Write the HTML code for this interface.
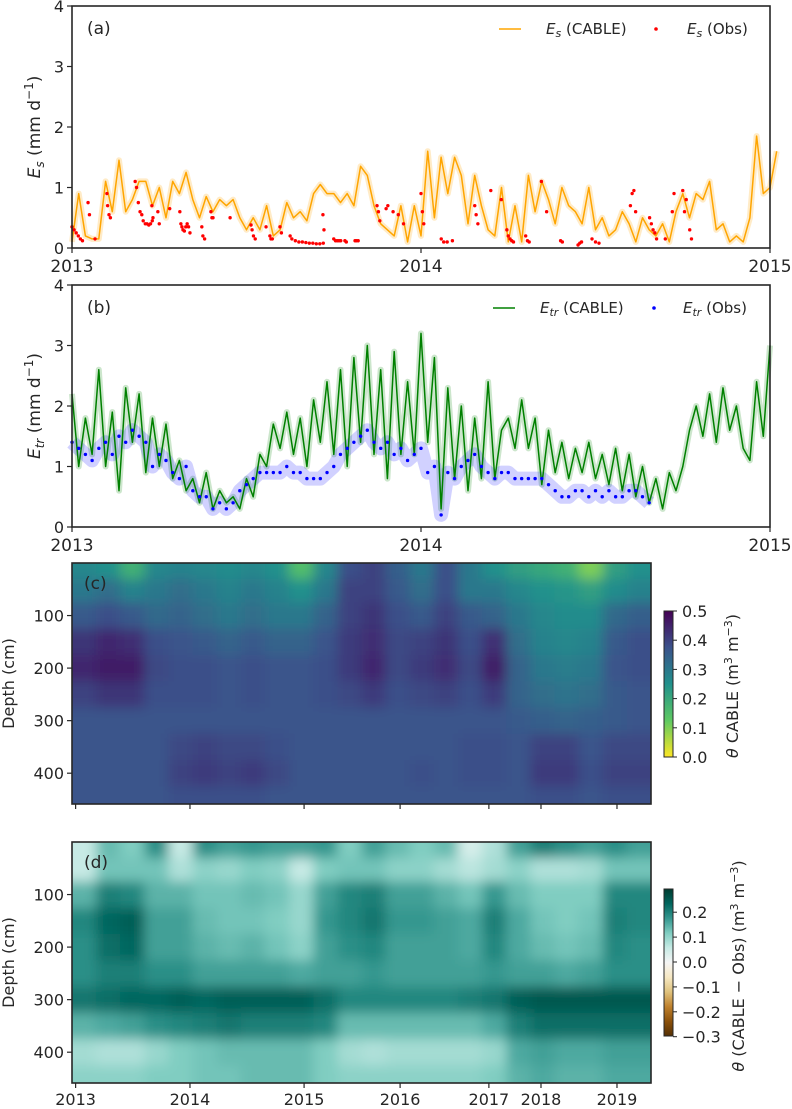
<!DOCTYPE html>
<html><head><meta charset="utf-8"><style>
html,body{margin:0;padding:0;background:#fff;}
svg{display:block;font-family:"DejaVu Sans","Liberation Sans",sans-serif;}
</style></head><body>
<svg id="fig" width="792" height="1109" viewBox="0 0 792 1109" xmlns="http://www.w3.org/2000/svg">
<defs>
<filter id="blur" x="-5%" y="-5%" width="110%" height="110%"><feGaussianBlur stdDeviation="6" edgeMode="duplicate"/></filter>
<clipPath id="clipC"><rect x="72" y="563" width="579" height="241"/></clipPath>
<clipPath id="clipD"><rect x="72" y="842" width="579" height="241"/></clipPath>
<linearGradient id="gradC" x1="0" y1="1" x2="0" y2="0">
<stop offset="0" stop-color="#fde725"/><stop offset="0.25" stop-color="#5ec962"/><stop offset="0.5" stop-color="#21918c"/><stop offset="0.75" stop-color="#3b528b"/><stop offset="1" stop-color="#440154"/>
</linearGradient>
<linearGradient id="gradD" x1="0" y1="1" x2="0" y2="0">
<stop offset="0" stop-color="#543005"/><stop offset="0.1" stop-color="#8c510a"/><stop offset="0.2" stop-color="#bf812d"/><stop offset="0.3" stop-color="#dfc27d"/><stop offset="0.4" stop-color="#f6e8c3"/><stop offset="0.5" stop-color="#f5f5f5"/><stop offset="0.6" stop-color="#c7eae5"/><stop offset="0.7" stop-color="#80cdc1"/><stop offset="0.8" stop-color="#35978f"/><stop offset="0.9" stop-color="#01665e"/><stop offset="1" stop-color="#003c30"/>
</linearGradient>
</defs>
</svg>
<script>
// ---------- DATA ----------
const esStart = 2013.0, esStep = 1/52;
const esCable = [0.1,0.9,0.2,0.15,0.15,1.1,0.6,1.45,0.6,0.8,1.1,1.1,0.7,1.0,0.5,1.1,0.9,1.25,0.8,0.5,0.85,0.6,0.8,0.7,0.8,0.5,0.3,0.5,0.3,0.7,0.2,0.3,0.75,0.5,0.6,0.45,0.9,1.05,0.9,0.9,0.75,0.9,0.7,1.35,1.2,0.7,0.4,0.3,0.2,0.7,0.1,0.7,0.2,
1.6,0.5,1.5,0.9,1.5,1.2,0.4,1.2,0.7,0.3,0.2,1.0,0.1,0.7,0.1,1.2,0.6,1.1,0.8,0.4,1.0,0.7,0.6,0.4,1.0,0.3,0.5,0.2,0.3,0.6,0.4,0.1,0.5,0.3,0.2,0.4,0.1,0.6,0.9,0.5,0.9,0.8,1.1,0.3,0.4,0.1,0.2,0.1,0.5,1.85,0.9,1.0,1.6];
const esObsT = [2013.0,2013.006,2013.012,2013.018,2013.024,2013.03,2013.046,2013.05,2013.066,2013.1,2013.102,2013.106,2013.11,2013.181,2013.185,2013.19,2013.195,2013.2,2013.204,2013.21,2013.215,2013.22,2013.225,2013.23,2013.229,2013.232,2013.246,2013.25,2013.28,2013.309,2013.312,2013.315,2013.318,2013.322,2013.326,2013.33,2013.334,2013.338,2013.372,2013.375,2013.38,2013.398,2013.401,2013.404,2013.453,2013.513,2013.516,2013.52,2013.525,2013.556,2013.567,2013.57,2013.574,2013.596,2013.6,2013.625,2013.63,2013.64,2013.65,2013.66,2013.67,2013.68,2013.69,2013.7,2013.71,2013.72,2013.719,2013.722,2013.75,2013.755,2013.76,2013.765,2013.77,2013.782,2013.786,2013.811,2013.815,2013.82,2013.874,2013.878,2013.882,2013.9,2013.905,
2013.92,2013.935,2013.95,2014.0,2014.004,2014.008,2014.058,2014.065,2014.075,2014.09,2014.154,2014.158,2014.163,2014.2,2014.23,2014.246,2014.25,2014.255,2014.26,2014.265,2014.3,2014.305,2014.31,2014.345,2014.36,2014.4,2014.405,2014.45,2014.455,2014.46,2014.49,2014.5,2014.51,2014.6,2014.605,2014.61,2014.615,2014.655,2014.66,2014.665,2014.67,2014.675,2014.7,2014.72,2014.725,2014.75,2014.755,2014.76,2014.77,2014.775];
const esObsV = [0.35,0.3,0.25,0.2,0.15,0.12,0.75,0.55,0.15,0.9,0.7,0.55,0.5,1.1,1.0,0.75,0.6,0.55,0.45,0.4,0.4,0.38,0.4,0.45,0.7,0.5,0.6,0.4,0.65,0.6,0.4,0.35,0.3,0.28,0.35,0.4,0.35,0.25,0.35,0.2,0.15,0.6,0.5,0.5,0.5,0.38,0.3,0.2,0.15,0.35,0.2,0.15,0.15,0.35,0.25,0.2,0.15,0.12,0.1,0.1,0.09,0.08,0.08,0.07,0.07,0.08,0.55,0.3,0.15,0.12,0.12,0.12,0.12,0.12,0.1,0.12,0.12,0.12,0.7,0.6,0.45,0.65,0.7,
0.6,0.55,0.4,0.9,0.6,0.4,0.15,0.1,0.1,0.12,0.7,0.55,0.4,0.95,0.8,0.3,0.2,0.15,0.12,0.1,0.2,0.12,0.1,1.1,0.6,0.12,0.1,0.05,0.08,0.1,0.15,0.1,0.08,0.7,0.9,0.95,0.6,0.5,0.4,0.3,0.25,0.15,0.15,0.6,0.9,0.95,0.6,0.8,0.3,0.15];
const etrStart = 2013.0, etrStep = 1/52;
const etrCable = [2.2,1.0,1.8,1.2,2.6,1.0,1.9,0.6,2.3,1.4,2.2,0.9,1.8,1.0,1.7,0.8,1.1,0.6,0.8,0.4,0.9,0.3,0.6,0.4,0.5,0.3,0.8,0.5,1.2,1.0,1.7,1.3,1.9,1.2,1.8,1.0,2.1,1.4,2.4,1.2,2.6,1.0,2.8,1.4,3.0,1.2,2.6,0.8,2.9,1.2,2.4,1.2,
3.2,1.4,2.8,0.3,2.3,0.8,2.0,0.6,1.8,0.8,2.4,0.8,1.6,1.8,1.3,2.1,1.3,1.8,0.7,1.6,0.9,1.4,0.8,1.3,0.9,1.4,0.8,1.2,0.7,1.3,0.6,1.2,0.5,1.0,0.4,0.8,0.3,0.9,0.6,1.0,1.6,2.0,1.5,2.2,1.4,2.3,1.6,2.0,1.3,1.1,2.4,1.5,3.0];
const etrObs = [1.4,1.3,1.2,1.1,1.3,1.4,1.2,1.5,1.4,1.6,1.5,1.4,1.0,1.2,1.1,0.9,0.8,1.0,0.6,0.5,0.5,0.3,0.4,0.3,0.4,0.6,0.7,0.8,0.9,0.9,0.9,0.9,1.0,0.9,0.9,0.8,0.8,0.8,0.9,1.0,1.2,1.3,1.4,1.5,1.6,1.4,1.3,1.4,1.2,1.3,1.1,1.2,
1.3,0.9,1.0,0.2,0.9,0.8,1.0,1.1,1.2,1.0,0.9,0.8,0.9,0.9,0.8,0.8,0.8,0.8,0.8,0.7,0.6,0.5,0.5,0.6,0.6,0.5,0.6,0.5,0.6,0.5,0.5,0.6,0.6,0.5,0.4];
const yearTicks = [2013,2014,2015];
const valTicks = [0,1,2,3,4];
const depths = [10,50,100,150,200,250,300,350,400,450];
const depthTicks = [100,200,300,400];
const heatYearLabels = [2013,2014,2015,2016,2017,2018,2019];
const heatYearIdx = [0.15,4.89,9.62,13.6,17.28,19.44,22.59];
const thetaCable = [
[.27,.25,.18,.27,.28,.27,.26,.27,.25,.15,.27,.38,.4,.35,.3,.38,.3,.25,.22,.2,.18,.1,.22,.25],
[.3,.32,.28,.3,.32,.3,.28,.3,.28,.25,.3,.4,.4,.36,.32,.38,.3,.3,.27,.25,.24,.22,.26,.28],
[.36,.38,.36,.33,.34,.32,.3,.32,.3,.3,.34,.4,.42,.38,.36,.4,.36,.34,.3,.27,.26,.26,.33,.35],
[.42,.44,.43,.38,.37,.36,.34,.36,.34,.34,.37,.41,.43,.39,.4,.42,.38,.43,.32,.28,.27,.28,.36,.38],
[.44,.46,.46,.39,.38,.38,.37,.38,.37,.37,.38,.41,.44,.39,.41,.43,.39,.46,.34,.3,.29,.3,.37,.38],
[.4,.42,.42,.38,.38,.38,.37,.38,.37,.37,.38,.39,.41,.38,.39,.4,.38,.41,.34,.32,.31,.32,.36,.37],
[.37,.37,.37,.37,.37,.37,.37,.37,.37,.37,.37,.37,.37,.37,.37,.37,.37,.37,.36,.35,.34,.35,.36,.37],
[.37,.37,.37,.37,.39,.4,.39,.39,.38,.37,.37,.37,.37,.37,.37,.37,.38,.38,.37,.4,.4,.37,.39,.39],
[.37,.37,.37,.37,.4,.41,.4,.41,.39,.37,.37,.37,.37,.37,.38,.37,.38,.38,.37,.41,.41,.38,.4,.4],
[.37,.37,.37,.37,.38,.38,.38,.38,.37,.37,.37,.37,.37,.37,.37,.37,.37,.37,.37,.38,.38,.37,.38,.38]];
const thetaDiff = [
[.06,.14,.12,.19,.06,.19,.17,.18,.17,.17,.18,.12,.17,.14,.12,.14,.04,.08,.17,.21,.19,.17,.19,.17],
[.06,.13,.13,.13,.08,.11,.1,.12,.11,.06,.12,.13,.13,.11,.11,.09,.07,.09,.11,.08,.08,.09,.13,.13],
[.15,.21,.2,.15,.15,.13,.13,.14,.13,.1,.17,.2,.21,.17,.17,.15,.13,.18,.14,.12,.12,.12,.2,.2],
[.2,.24,.25,.17,.17,.14,.13,.13,.12,.1,.18,.2,.22,.18,.18,.17,.16,.21,.16,.13,.12,.13,.21,.2],
[.19,.23,.24,.17,.17,.15,.14,.15,.13,.11,.17,.19,.2,.17,.17,.17,.16,.2,.16,.14,.13,.14,.2,.19],
[.19,.21,.21,.19,.19,.17,.17,.17,.17,.16,.17,.17,.18,.17,.17,.17,.17,.18,.17,.17,.16,.17,.19,.19],
[.22,.23,.24,.24,.25,.24,.25,.25,.25,.25,.23,.2,.2,.2,.2,.2,.21,.22,.25,.26,.26,.26,.26,.26],
[.15,.16,.17,.19,.2,.21,.22,.21,.21,.21,.2,.14,.14,.14,.14,.14,.14,.16,.21,.23,.23,.23,.23,.23],
[.09,.08,.08,.1,.12,.13,.14,.14,.14,.14,.12,.09,.08,.09,.09,.09,.09,.1,.16,.17,.16,.16,.17,.17],
[.11,.11,.11,.12,.12,.13,.13,.14,.14,.14,.12,.11,.11,.11,.11,.11,.11,.12,.15,.16,.15,.15,.16,.16]];
const cbCTicks = [0.0,0.1,0.2,0.3,0.4,0.5];
const cbDTicks = [0.2,0.1,0.0,-0.1,-0.2,-0.3];

// ---------- HELPERS ----------
const NS = "http://www.w3.org/2000/svg";
const svg = document.getElementById('fig');
function mk(tag, attrs, parent){ const e=document.createElementNS(NS,tag); for(const k in attrs) e.setAttribute(k,attrs[k]); (parent||svg).appendChild(e); return e; }
const INK = "#262626";
const X0=72, X1=770;
const xYear = y => X0 + (y-2013)*(X1-X0)/2;
const yA = v => 248 - v*60.5;
const yB = v => 527 - v*60.5;
const HX0=72, HX1=651, NCOL=24;
const xIdx = i => HX0 + i*(HX1-HX0)/NCOL;
const yDepthC = d => 563 + d*0.5255;
const yDepthD = d => 842 + d*0.5255;

function txt(x,y,s,opt){ const t=mk('text',Object.assign({x:x,y:y,'font-size':16,fill:INK},opt||{})); t.textContent=s; return t; }

function linePanel(yf, top, bottom, label, tagName){
  const g = mk('g',{});
  
  
  valTicks.forEach(v=>{
    const y=yf(v);
    const tk=mk('line',{x1:X0-5,x2:X0,y1:y,y2:y,stroke:INK,'stroke-width':1.2},g);
    
    
    const t=txt(X0-8,y+6,String(v),{'text-anchor':'end'}); g.appendChild(t);
    
    
  });
  yearTicks.forEach(yr=>{
    const x=xYear(yr);
    const tk=mk('line',{x1:x,x2:x,y1:bottom,y2:bottom+5,stroke:INK,'stroke-width':1.2},g);
    
    
    const t=txt(x,bottom+24,String(yr),{'text-anchor':'middle','font-size':17}); g.appendChild(t);
    
    
  });
  return g;
}
function frame(x0,y0,x1,y1,name){
  const r=mk('rect',{x:x0,y:y0,width:x1-x0,height:y1-y0,fill:'none',stroke:INK,'stroke-width':1.6});
  
  
}
function polyline(arr,xf,yf,stroke,w,op,name){
  const pts=arr.map((v,i)=>xf(i).toFixed(1)+','+yf(v).toFixed(1)).join(' ');
  const p=mk('polyline',{points:pts,fill:'none',stroke:stroke,'stroke-width':w,'stroke-opacity':op,'stroke-linejoin':'round'});
  
  
  return p;
}
function ylabel(x,y,main,sub){
  const t=mk('text',{x:0,y:0,'font-size':17,fill:INK,'text-anchor':'middle',transform:`translate(${x},${y}) rotate(-90)`});
  
  
  const a=mk('tspan',{'font-style':'italic'},t); a.textContent='E';
  const b=mk('tspan',{'font-style':'italic','font-size':12,dy:4},t); b.textContent=sub;
  const c=mk('tspan',{dy:-4},t); c.textContent=' (mm d';
  const d=mk('tspan',{'font-size':12,dy:-7},t); d.textContent='−1';
  const e=mk('tspan',{dy:7},t); e.textContent=')';
}
function legendLabel(x,y,sub,rest){
  const t=mk('text',{x:x,y:y,'font-size':15,fill:INK});
  
  
  const a=mk('tspan',{'font-style':'italic'},t); a.textContent='E';
  const b=mk('tspan',{'font-style':'italic','font-size':11,dy:3},t); b.textContent=sub;
  const c=mk('tspan',{dy:-3},t); c.textContent=rest;
}

// ---------- PANEL A ----------
linePanel(yA,6,248,'a','panel-a');
const xEs = i => xYear(esStart + i*esStep);
polyline(esCable,xEs,yA,'#ffa500',6,0.22,'es-cable-band');
polyline(esCable,xEs,yA,'#ffa500',1.5,1,'es-cable-line');
esObsT.forEach((t,i)=>{
  const c=mk('circle',{cx:xYear(t),cy:yA(esObsV[i]),r:1.7,fill:'#ff0000'});
  
  
});
frame(72,6,770,248,'panel-a-frame');
txt(87,34,'(a)',{'font-size':17});
ylabel(40,127,'E','s');
mk('line',{x1:499,x2:521,y1:29,y2:29,stroke:'#ffa500','stroke-width':1.5});
legendLabel(546,34,'s',' (CABLE)');
mk('circle',{cx:656,cy:29,r:1.8,fill:'#ff0000'});
legendLabel(687,34,'s',' (Obs)');

// ---------- PANEL B ----------
linePanel(yB,285,527,'b','panel-b');
const xEt = i => xYear(etrStart + i*etrStep);
polyline(etrCable,xEt,yB,'#008000',6,0.2,'etr-cable-band');
polyline(etrObs,xEt,yB,'#0000ff',14,0.18,'etr-obs-band');
polyline(etrCable,xEt,yB,'#008000',1.5,1,'etr-cable-line');
etrObs.forEach((v,i)=>{
  const c=mk('circle',{cx:xEt(i),cy:yB(v),r:1.7,fill:'#0000ff'});
  
  
});
frame(72,285,770,527,'panel-b-frame');
txt(87,313,'(b)',{'font-size':17});
ylabel(40,406,'E','tr');
mk('line',{x1:493,x2:515,y1:308,y2:308,stroke:'#008000','stroke-width':1.5});
legendLabel(540,313,'tr',' (CABLE)');
mk('circle',{cx:654,cy:308,r:1.8,fill:'#0000ff'});
legendLabel(683,313,'tr',' (Obs)');

// ---------- COLORMAPS ----------
function hex2rgb(h){return [parseInt(h.slice(1,3),16),parseInt(h.slice(3,5),16),parseInt(h.slice(5,7),16)];}
function interp(stops,t){
  t=Math.max(0,Math.min(1,t)); const n=stops.length-1; const f=t*n; const i=Math.min(n-1,Math.floor(f)); const u=f-i;
  const a=hex2rgb(stops[i]), b=hex2rgb(stops[i+1]);
  return 'rgb('+a.map((v,k)=>Math.round(v+(b[k]-v)*u)).join(',')+')';
}
const viridisR = ['#fde725','#5ec962','#21918c','#3b528b','#440154'];
const brbg = ['#543005','#8c510a','#bf812d','#dfc27d','#f6e8c3','#f5f5f5','#c7eae5','#80cdc1','#35978f','#01665e','#003c30'];

function heat(data, yD, clipId, cfun, name){
  const outer=mk('g',{'clip-path':`url(#${clipId})`});
  
  
  const g=mk('g',{filter:'url(#blur)'},outer);
  data.forEach((row,r)=>{
    const top = r===0 ? yD(-40) : yD((depths[r-1]+depths[r])/2);
    const bot = r===depths.length-1 ? yD(520) : yD((depths[r]+depths[r+1])/2);
    row.forEach((v,c)=>{
      const x0 = c===0 ? xIdx(-1) : xIdx(c), x1 = c===NCOL-1 ? xIdx(NCOL+1) : xIdx(c+1);
      const rc=mk('rect',{x:x0,y:top,width:x1-x0+0.5,height:bot-top+0.5,fill:cfun(v)},g);
      
      
    });
  });
}
function heatAxes(top,bottom,yD,showLabels,name){
  depthTicks.forEach(d=>{
    const y=yD(d);
    mk('line',{x1:HX0-5,x2:HX0,y1:y,y2:y,stroke:INK,'stroke-width':1.2});
    const t=txt(HX0-8,y+6,String(d),{'text-anchor':'end'});
    
    
  });
  heatYearIdx.forEach((ix,k)=>{
    const x=xIdx(ix);
    mk('line',{x1:x,x2:x,y1:bottom,y2:bottom+5,stroke:INK,'stroke-width':1.2});
    if(showLabels){
      const t=txt(x,bottom+22,String(heatYearLabels[k]),{'text-anchor':'middle'});
      
      
    }
  });
  const yl=mk('text',{x:0,y:0,'font-size':16,fill:INK,'text-anchor':'middle',transform:`translate(14,${(top+bottom)/2}) rotate(-90)`});
  yl.textContent='Depth (cm)';
  
  
  frame(HX0,top,HX1,bottom,name+'-frame');
}

// ---------- PANEL C ----------
heat(thetaCable,yDepthC,'clipC',v=>interp(viridisR,v/0.5),'theta-cable-heatmap');
heatAxes(563,804,yDepthC,false,'panel-c');
txt(84,589,'(c)',{'font-size':17});
const cbC=mk('rect',{x:664,y:611,width:9,height:146,fill:'url(#gradC)',stroke:INK,'stroke-width':1});


cbCTicks.forEach(v=>{
  const y=757 - v/0.5*146;
  mk('line',{x1:673,x2:677,y1:y,y2:y,stroke:INK,'stroke-width':1});
  const t=txt(682,y+6,v.toFixed(1));
  
  
});
{
  const t=mk('text',{x:0,y:0,'font-size':16,fill:INK,'text-anchor':'middle',transform:'translate(738,686) rotate(-90)'});
  
  
  const a=mk('tspan',{'font-style':'italic'},t); a.textContent='θ';
  const b=mk('tspan',{},t); b.textContent=' CABLE (m';
  const c=mk('tspan',{'font-size':11,dy:-6},t); c.textContent='3';
  const d=mk('tspan',{dy:6},t); d.textContent=' m';
  const e=mk('tspan',{'font-size':11,dy:-6},t); e.textContent='−3';
  const f=mk('tspan',{dy:6},t); f.textContent=')';
}

// ---------- PANEL D ----------
heat(thetaDiff,yDepthD,'clipD',v=>interp(brbg,(v+0.3)/0.6),'theta-diff-heatmap');
heatAxes(842,1083,yDepthD,true,'panel-d');
txt(84,868,'(d)',{'font-size':17});
const cbD=mk('rect',{x:664,y:889,width:9,height:147,fill:'url(#gradD)',stroke:INK,'stroke-width':1});


cbDTicks.forEach(v=>{
  const y=962 - v*249;
  mk('line',{x1:673,x2:677,y1:y,y2:y,stroke:INK,'stroke-width':1});
  const t=txt(682,y+6,(v<0?'−':'')+Math.abs(v).toFixed(1));
  
  
});
{
  const t=mk('text',{x:0,y:0,'font-size':16,fill:INK,'text-anchor':'middle',transform:'translate(744,966) rotate(-90)'});
  
  
  const a=mk('tspan',{'font-style':'italic'},t); a.textContent='θ';
  const b=mk('tspan',{},t); b.textContent=' (CABLE − Obs) (m';
  const c=mk('tspan',{'font-size':11,dy:-6},t); c.textContent='3';
  const d=mk('tspan',{dy:6},t); d.textContent=' m';
  const e=mk('tspan',{'font-size':11,dy:-6},t); e.textContent='−3';
  const f=mk('tspan',{dy:6},t); f.textContent=')';
}
</script>
</body></html>
